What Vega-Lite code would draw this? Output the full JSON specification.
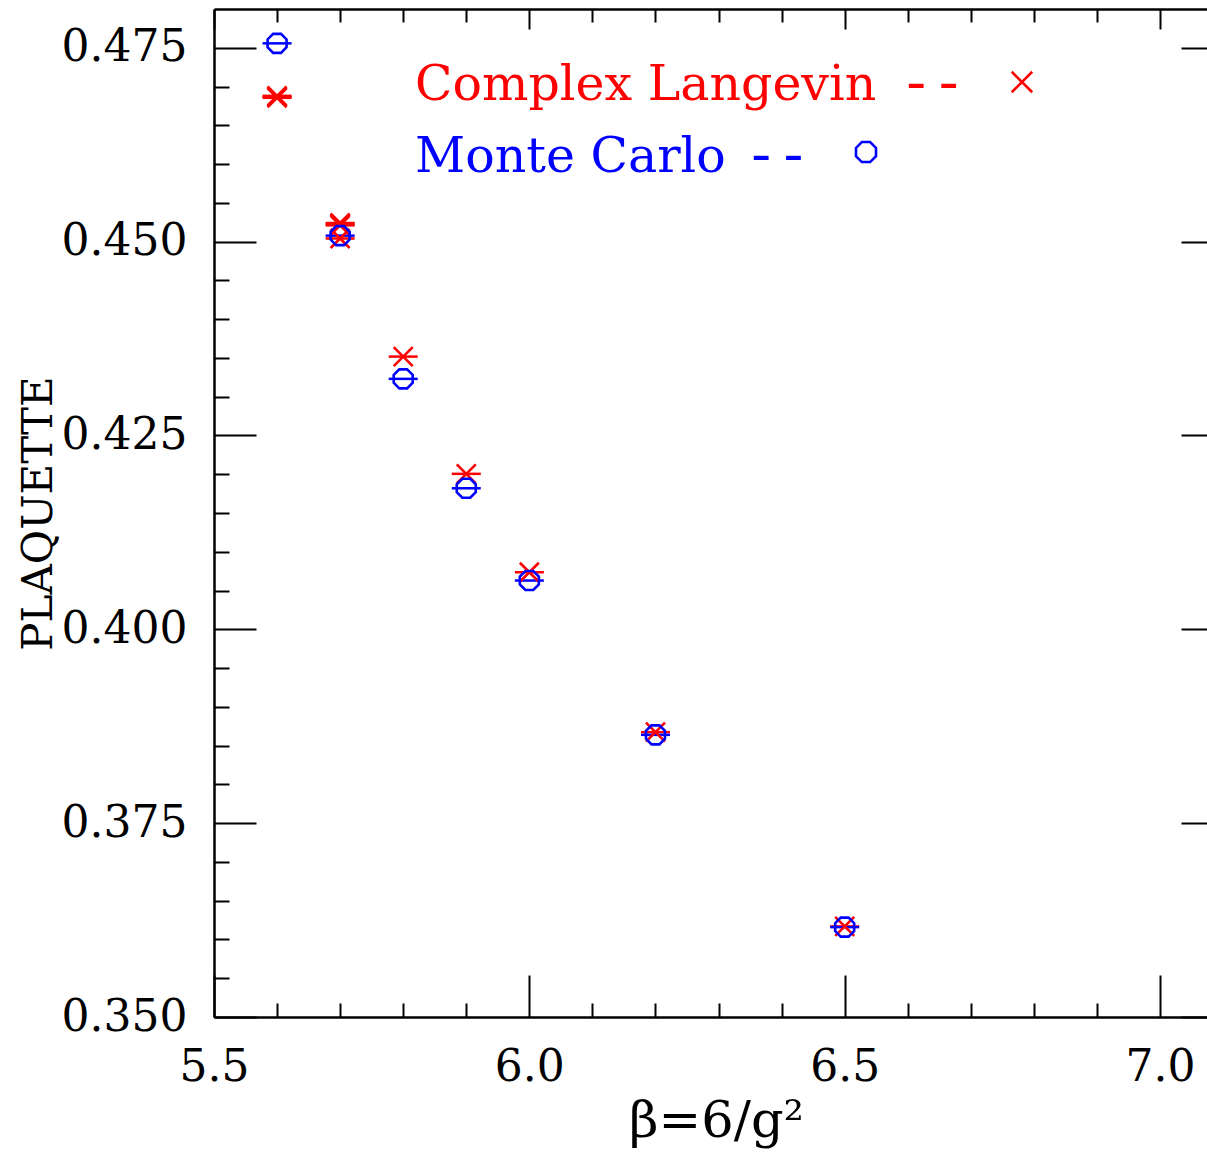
{
  "$schema": "https://vega.github.io/schema/vega-lite/v6.json",
  "width": 993,
  "height": 1008,
  "autosize": {"type": "none"},
  "padding": {"left": 214, "top": 9, "right": 0, "bottom": 140},
  "background": "white",
  "config": {
    "view": {"stroke": null},
    "axis": {
      "grid": false,
      "domainColor": "#000000",
      "tickColor": "#000000",
      "labelColor": "#000000",
      "titleColor": "#000000",
      "labelFont": "DejaVu Serif",
      "labelFontSize": 44,
      "domainWidth": 2.5,
      "tickWidth": 2,
      "labelOverlap": false,
      "labelFlush": false,
      "labelBound": false
    }
  },
  "datasets": {
    "points": [
      {"method": "Complex Langevin", "beta": 5.6, "plaquette": 0.4688},
      {"method": "Complex Langevin", "beta": 5.6, "plaquette": 0.46868},
      {"method": "Complex Langevin", "beta": 5.6, "plaquette": 0.46855},
      {"method": "Complex Langevin", "beta": 5.7, "plaquette": 0.4524},
      {"method": "Complex Langevin", "beta": 5.7, "plaquette": 0.45225},
      {"method": "Complex Langevin", "beta": 5.7, "plaquette": 0.4521},
      {"method": "Complex Langevin", "beta": 5.7, "plaquette": 0.4504},
      {"method": "Complex Langevin", "beta": 5.8, "plaquette": 0.43517},
      {"method": "Complex Langevin", "beta": 5.9, "plaquette": 0.42005},
      {"method": "Complex Langevin", "beta": 6.0, "plaquette": 0.40736},
      {"method": "Complex Langevin", "beta": 6.2, "plaquette": 0.38673},
      {"method": "Complex Langevin", "beta": 6.5, "plaquette": 0.36168},
      {"method": "Monte Carlo", "beta": 5.6, "plaquette": 0.47557},
      {"method": "Monte Carlo", "beta": 5.7, "plaquette": 0.45077},
      {"method": "Monte Carlo", "beta": 5.8, "plaquette": 0.4323},
      {"method": "Monte Carlo", "beta": 5.9, "plaquette": 0.41819},
      {"method": "Monte Carlo", "beta": 6.0, "plaquette": 0.40629},
      {"method": "Monte Carlo", "beta": 6.2, "plaquette": 0.38639},
      {"method": "Monte Carlo", "beta": 6.5, "plaquette": 0.36159}
    ],
    "legend": [
      {"method": "Complex Langevin", "label": "Complex Langevin", "dash": "--"},
      {"method": "Monte Carlo", "label": "Monte Carlo", "dash": "--"}
    ]
  },
  "resolve": {
    "scale": {"x": "shared", "y": "shared"},
    "axis": {"x": "independent", "y": "independent"}
  },
  "layer": [
    {
      "data": {"name": "points"},
      "mark": {"type": "point", "shape": "M-1,0L1,0", "size": 841, "strokeWidth": 2.5, "filled": false, "opacity": 1},
      "encoding": {
        "x": {
          "field": "beta", "type": "quantitative",
          "scale": {"domain": [5.5, 7.0745], "nice": false, "zero": false},
          "axis": {
            "orient": "bottom",
            "values": [5.5, 5.6, 5.7, 5.8, 5.9, 6.0, 6.1, 6.2, 6.3, 6.4, 6.5, 6.6, 6.7, 6.8, 6.9, 7.0],
            "tickSize": {"condition": {"test": "abs(datum.value*2-round(datum.value*2))<0.001", "value": -42}, "value": -14},
            "labelExpr": "abs(datum.value*2-round(datum.value*2))<0.001 ? format(datum.value,'.1f') : ''",
            "labelPadding": 105,
            "labelBaseline": "alphabetic",
            "title": "β=6/g²",
            "titleFont": "DejaVu Serif",
            "titleFontSize": 51,
            "titleFontWeight": "normal",
            "titleX": 502,
            "titleY": 119,
            "titleAlign": "center",
            "titleBaseline": "alphabetic"
          }
        },
        "y": {
          "field": "plaquette", "type": "quantitative",
          "scale": {"domain": [0.35, 0.48], "nice": false, "zero": false},
          "axis": {
            "orient": "left",
            "values": [0.35, 0.355, 0.36, 0.365, 0.37, 0.375, 0.38, 0.385, 0.39, 0.395, 0.4, 0.405, 0.41, 0.415, 0.42, 0.425, 0.43, 0.435, 0.44, 0.445, 0.45, 0.455, 0.46, 0.465, 0.47, 0.475],
            "tickSize": {"condition": {"test": "abs(datum.value*40-round(datum.value*40))<0.001", "value": -42}, "value": -15},
            "labelExpr": "abs(datum.value*40-round(datum.value*40))<0.001 ? format(datum.value,'.3f') : ''",
            "labelPadding": 69,
            "labelBaseline": "middle",
            "title": "PLAQUETTE",
            "titleFont": "DejaVu Serif",
            "titleFontSize": 42,
            "titleFontWeight": "normal",
            "titleAngle": -90,
            "titleX": -163,
            "titleY": 504,
            "titleAlign": "center",
            "titleBaseline": "alphabetic"
          }
        },
        "color": {
          "field": "method", "type": "nominal",
          "scale": {"domain": ["Complex Langevin", "Monte Carlo"], "range": ["#ff0000", "#0000ff"]},
          "legend": null
        }
      }
    },
    {
      "data": {"name": "points"},
      "mark": {"type": "point", "size": 361, "strokeWidth": 2.6, "filled": false, "opacity": 1},
      "encoding": {
        "x": {
          "field": "beta", "type": "quantitative",
          "axis": {
            "orient": "top",
            "values": [5.5, 5.6, 5.7, 5.8, 5.9, 6.0, 6.1, 6.2, 6.3, 6.4, 6.5, 6.6, 6.7, 6.8, 6.9, 7.0],
            "tickSize": {"condition": {"test": "abs(datum.value*2-round(datum.value*2))<0.001", "value": -20}, "value": -13},
            "labels": false,
            "title": null
          }
        },
        "y": {
          "field": "plaquette", "type": "quantitative",
          "axis": {
            "orient": "right",
            "values": [0.35, 0.375, 0.4, 0.425, 0.45, 0.475],
            "tickSize": -26,
            "domain": false,
            "labels": false,
            "title": null
          }
        },
        "color": {"field": "method", "type": "nominal", "legend": null},
        "shape": {
          "field": "method", "type": "nominal",
          "scale": {"domain": ["Complex Langevin", "Monte Carlo"], "range": ["M-1,-1L1,1M-1,1L1,-1", "M1,-0.414L1,0.414L0.414,1L-0.414,1L-1,0.414L-1,-0.414L-0.414,-1L0.414,-1Z"]},
          "legend": null
        }
      }
    },
    {
      "data": {"name": "legend"},
      "transform": [{"filter": "datum.method === 'Complex Langevin'"}],
      "mark": {"type": "text", "align": "left", "baseline": "alphabetic", "font": "DejaVu Serif", "fontSize": 49},
      "encoding": {
        "x": {"datum": 5.8187, "type": "quantitative", "axis": null},
        "y": {"datum": 0.46826, "type": "quantitative", "axis": null},
        "text": {"field": "label"},
        "color": {"field": "method", "type": "nominal", "legend": null}
      }
    },
    {
      "data": {"name": "legend"},
      "transform": [{"filter": "datum.method === 'Monte Carlo'"}],
      "mark": {"type": "text", "align": "left", "baseline": "alphabetic", "font": "DejaVu Serif", "fontSize": 49},
      "encoding": {
        "x": {"datum": 5.8187, "type": "quantitative", "axis": null},
        "y": {"datum": 0.45904, "type": "quantitative", "axis": null},
        "text": {"field": "label"},
        "color": {"field": "method", "type": "nominal", "legend": null}
      }
    },
    {
      "data": {"name": "legend"},
      "transform": [{"filter": "datum.method === 'Complex Langevin'"}],
      "mark": {"type": "text", "align": "left", "baseline": "alphabetic", "font": "Liberation Mono", "fontSize": 54},
      "encoding": {
        "x": {"datum": 6.5877, "type": "quantitative", "axis": null},
        "y": {"datum": 0.46826, "type": "quantitative", "axis": null},
        "text": {"field": "dash"},
        "color": {"field": "method", "type": "nominal", "legend": null}
      }
    },
    {
      "data": {"name": "legend"},
      "transform": [{"filter": "datum.method === 'Monte Carlo'"}],
      "mark": {"type": "text", "align": "left", "baseline": "alphabetic", "font": "Liberation Mono", "fontSize": 54},
      "encoding": {
        "x": {"datum": 6.3419, "type": "quantitative", "axis": null},
        "y": {"datum": 0.45904, "type": "quantitative", "axis": null},
        "text": {"field": "dash"},
        "color": {"field": "method", "type": "nominal", "legend": null}
      }
    },
    {
      "data": {"name": "legend"},
      "transform": [{"filter": "datum.method === 'Complex Langevin'"}],
      "mark": {"type": "point", "size": 420, "strokeWidth": 2.6, "filled": false, "opacity": 1},
      "encoding": {
        "x": {"datum": 6.7811, "type": "quantitative", "axis": null},
        "y": {"datum": 0.47058, "type": "quantitative", "axis": null},
        "color": {"field": "method", "type": "nominal", "legend": null},
        "shape": {"field": "method", "type": "nominal", "legend": null}
      }
    },
    {
      "data": {"name": "legend"},
      "transform": [{"filter": "datum.method === 'Monte Carlo'"}],
      "mark": {"type": "point", "size": 400, "strokeWidth": 2.6, "filled": false, "opacity": 1},
      "encoding": {
        "x": {"datum": 6.5338, "type": "quantitative", "axis": null},
        "y": {"datum": 0.46155, "type": "quantitative", "axis": null},
        "color": {"field": "method", "type": "nominal", "legend": null},
        "shape": {"field": "method", "type": "nominal", "legend": null}
      }
    }
  ]
}
